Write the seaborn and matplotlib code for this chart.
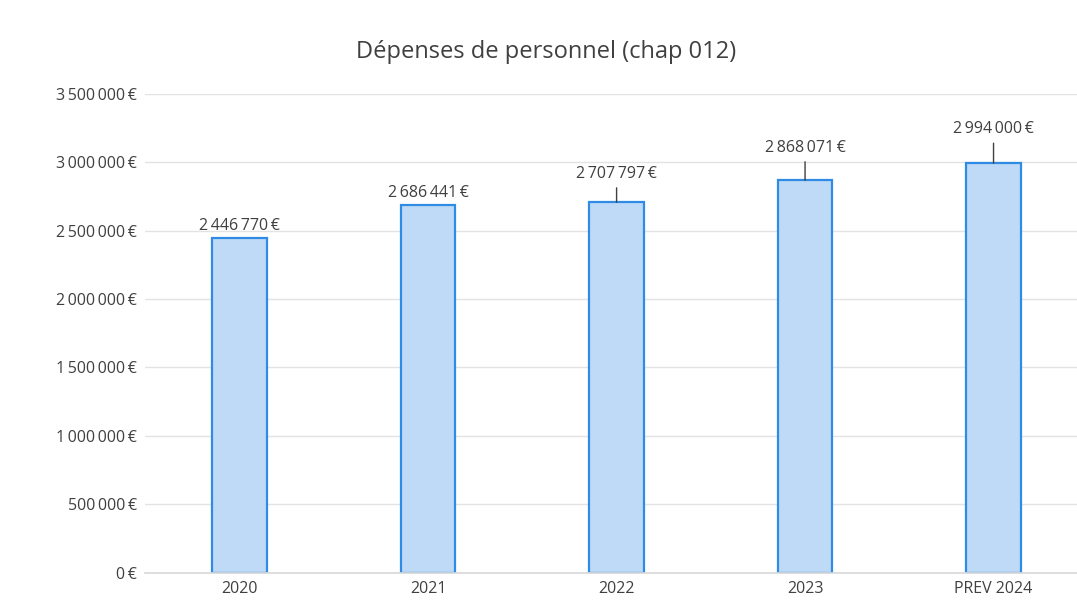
import numpy as np
import pandas as pd
import matplotlib.pyplot as plt
import seaborn as sns
from matplotlib.ticker import FuncFormatter

categories = ["2020", "2021", "2022", "2023", "PREV 2024"]
values = [2446770, 2686441, 2707797, 2868071, 2994000]
# label offset above bar top in data units (0 = sitting on bar, >0 = with leader line)
label_lift = [0, 0, 150000, 180000, 190000]

text_color = "#404040"

sns.set_theme(style="white")
plt.rcParams['font.family'] = ['Open Sans', 'DejaVu Sans']

def euro(v):
    s = f"{int(v):,}".replace(",", "\u2009")
    return s + "\u2009€"

df = pd.DataFrame({"annee": categories, "montant": values})

fig = plt.figure(figsize=(10.77, 6.06), dpi=100)
ax = fig.add_axes([0.135, 0.055, 0.875, 0.79])

sns.barplot(data=df, x="annee", y="montant", color="#BFDAF6", width=0.29,
            edgecolor="#2F8BE4", linewidth=1.6, saturation=1, ax=ax)

ax.set_ylim(0, 3500000)
ax.set_yticks(np.arange(0, 3500001, 500000))
ax.yaxis.set_major_formatter(FuncFormatter(lambda v, p: euro(v)))
ax.yaxis.grid(True, color="#e3e3e3", linewidth=1)
ax.set_axisbelow(True)
for s in ax.spines.values():
    s.set_visible(False)
ax.spines['bottom'].set_visible(True)
ax.spines['bottom'].set_color("#d9d9d9")
ax.tick_params(axis='both', length=0, labelsize=11.5, labelcolor=text_color, pad=6)
ax.set_xlabel("")
ax.set_ylabel("")

for i, (v, lift) in enumerate(zip(values, label_lift)):
    if lift == 0:
        ax.annotate(euro(v), (i, v), xytext=(0, 3), textcoords="offset points",
                    ha="center", va="bottom", fontsize=11.5, color=text_color)
    else:
        ax.annotate(euro(v), xy=(i, v), xytext=(i, v + lift),
                    ha="center", va="bottom", fontsize=11.5, color=text_color,
                    arrowprops=dict(arrowstyle="-", color=text_color, lw=1,
                                    shrinkA=2, shrinkB=0))

fig.text(0.507, 0.915, "Dépenses de personnel (chap 012)", ha="center", va="center",
         fontsize=17, color=text_color)

fig.savefig("out.png", dpi=100, facecolor="white")
